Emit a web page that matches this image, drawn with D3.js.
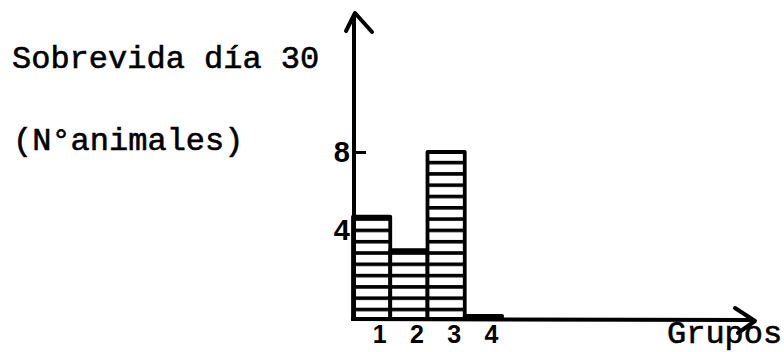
<!DOCTYPE html>
<html>
<head>
<meta charset="utf-8">
<script src="https://cdn.jsdelivr.net/npm/d3@7"></script>
<style>
  html, body { margin: 0; padding: 0; background: #fff; }
  svg { display: block; }
</style>
</head>
<body>
<svg id="chart" width="784" height="352"></svg>
<script>
const categories = ["1", "2", "3", "4"];
const values = [4.9, 3.3, 8, 0.15];
const yTicks = [4, 8];
const titleLines = ["Sobrevida día 30", "(N°animales)"];
const xTitle = "Grupos";

const svg = d3.select("#chart");
const W = 784, H = 352;
svg.append("rect").attr("width", W).attr("height", H).attr("fill", "#fff");

const x0 = 354, y0 = 319;
const x = d3.scaleBand().domain(categories).range([353, 502]).padding(0);
const y = d3.scaleLinear().domain([0, 8]).range([y0, 152]);

// stripe pattern aligned to baseline
const defs = svg.append("defs");
const pat = defs.append("pattern")
  .attr("id", "stripes")
  .attr("patternUnits", "userSpaceOnUse")
  .attr("x", 0).attr("y", y0)
  .attr("width", 20).attr("height", 11.3);
pat.append("rect").attr("width", 20).attr("height", 11.3).attr("fill", "#fff");
pat.append("rect").attr("x", 0).attr("y", 0).attr("width", 20).attr("height", 3.6).attr("fill", "#000");

// y axis ticks (drawn first so bars cover them)
const yAxis = svg.append("g")
  .attr("transform", `translate(${x0},0)`)
  .call(d3.axisLeft(y).tickValues(yTicks).tickFormat(d3.format("d")).tickSize(-12).tickPadding(4).tickSizeOuter(0));
yAxis.select(".domain").remove();
yAxis.selectAll(".tick line").attr("stroke", "#000").attr("stroke-width", 3);
yAxis.selectAll(".tick text")
  .attr("font-family", "Liberation Sans, sans-serif")
  .attr("font-weight", "bold")
  .attr("font-size", 29)
  .attr("fill", "#000")
  .attr("dy", d => d === 4 ? "0.15em" : "0.32em");

// bars
svg.append("g").selectAll("rect")
  .data(values)
  .join("rect")
  .attr("x", (d, i) => x(categories[i]))
  .attr("y", d => y(d))
  .attr("width", x.bandwidth())
  .attr("height", d => y0 - y(d))
  .attr("fill", "url(#stripes)")
  .attr("stroke", "#000")
  .attr("stroke-width", 3.8)
  .attr("stroke-linejoin", "round");

svg.append("line")
  .attr("x1", x0).attr("y1", y0 + 1)
  .attr("x2", x0).attr("y2", 14)
  .attr("stroke", "#000").attr("stroke-width", 4);
svg.append("path")
  .attr("d", "M346,31 L355,13 L372,32")
  .attr("fill", "none").attr("stroke", "#000").attr("stroke-width", 4)
  .attr("stroke-linejoin", "round").attr("stroke-linecap", "round");

// x axis
const xAxis = svg.append("g")
  .attr("transform", `translate(0,${y0})`)
  .call(d3.axisBottom(x).tickSize(0).tickPadding(0));
xAxis.select(".domain").remove();
xAxis.selectAll(".tick text")
  .attr("font-family", "Liberation Sans, sans-serif")
  .attr("font-weight", "bold")
  .attr("font-size", 25)
  .attr("fill", "#000")
  .attr("dx", 8)
  .attr("y", 24)
  .attr("dy", 0);

svg.append("line")
  .attr("x1", 351).attr("y1", y0)
  .attr("x2", 754).attr("y2", y0 + 1)
  .attr("stroke", "#000").attr("stroke-width", 4);
svg.append("path")
  .attr("d", "M735,308 L755,321 L738,333")
  .attr("fill", "none").attr("stroke", "#000").attr("stroke-width", 4)
  .attr("stroke-linejoin", "round").attr("stroke-linecap", "round");

// texts
const mono = "Liberation Mono, DejaVu Sans Mono, monospace";
function addText(tx, ty, s) {
  svg.append("text").attr("x", tx).attr("y", ty)
    .attr("font-family", mono).attr("font-size", 32)
    .attr("fill", "#000").attr("stroke", "#000").attr("stroke-width", 0.6)
    .text(s);
}
addText(12, 68, titleLines[0]);
addText(13, 150, titleLines[1]);
addText(667, 343, xTitle);
</script>
</body>
</html>
